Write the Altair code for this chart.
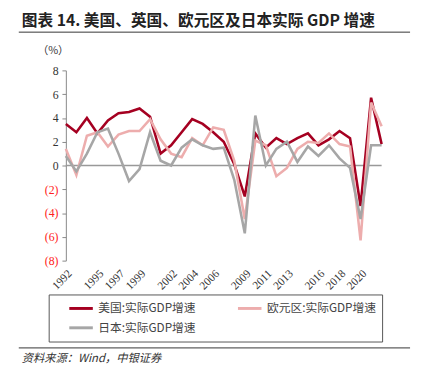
import altair as alt
import pandas as pd

years = list(range(1992, 2023))
us = [3.5, 2.8, 4.0, 2.7, 3.8, 4.4, 4.5, 4.8, 4.1, 1.0, 1.7, 2.8, 3.9, 3.5, 2.8, 2.0, 0.1, -2.6,
      2.7, 1.5, 2.3, 1.8, 2.3, 2.7, 1.7, 2.2, 2.9, 2.3, -3.4, 5.7, 1.8]
euro = [1.4, -0.8, 2.5, 2.8, 1.6, 2.6, 2.9, 2.9, 3.9, 2.2, 1.0, 0.7, 2.3, 1.7, 3.2, 3.0, 0.4, -4.5,
        2.1, 1.7, -0.9, -0.2, 1.4, 2.0, 1.9, 2.7, 1.8, 1.6, -6.3, 5.3, 3.3]
japan = [0.8, -0.5, 1.0, 2.8, 3.1, 1.0, -1.3, -0.3, 2.8, 0.4, 0.0, 1.5, 2.2, 1.7, 1.4, 1.5, -1.2, -5.7,
         4.2, 0.0, 1.4, 2.0, 0.3, 1.6, 0.8, 1.7, 0.6, -0.2, -4.5, 1.7, 1.7]

series_names = ["美国:实际GDP增速", "欧元区:实际GDP增速", "日本:实际GDP增速"]
series_colors = ["#A50021", "#EDADAD", "#A6A6A6"]
x_label_years = [1992, 1995, 1997, 1999, 2002, 2004, 2006, 2009, 2011, 2013, 2016, 2018, 2020]
y_ticks = [-8, -6, -4, -2, 0, 2, 4, 6, 8]

title_text = "图表 14. 美国、英国、欧元区及日本实际 GDP 增速"
unit_text = "（%）"
source_text = "资料来源：Wind，中银证券"

rows = []
for name, vals in zip(series_names, [us, euro, japan]):
    for yr, v in zip(years, vals):
        rows.append({"year": yr, "value": v, "series": name})
df = pd.DataFrame(rows)

serif = "Liberation Serif"
cjk = "Noto Sans CJK SC"

W, H = 322, 194

y_scale = alt.Scale(domain=[-8, 8], nice=False)
y_axis = alt.Axis(values=y_ticks, grid=False, domainColor="#888888", tickColor="#888888",
                  tickSize=4, labelFont=serif, labelFontSize=12, labelPadding=4,
                  labelOverlap=False,
                  labelExpr="datum.value < 0 ? '(' + abs(datum.value) + ')' : datum.value",
                  labelColor=alt.condition("datum.value < 0", alt.value("#FF2020"),
                                           alt.value("#333333")),
                  title=None)

lines = alt.Chart(df).mark_line(strokeWidth=2.6, clip=False).encode(
    x=alt.X("year:Q",
            scale=alt.Scale(domain=[1992, 2022], nice=False, zero=False),
            axis=alt.Axis(values=x_label_years, format="d", labelAngle=-45, labelAlign="right",
                          labelBaseline="top", domain=False,
                          ticks=False, grid=False, labelFont=serif, labelFontSize=11.5,
                          labelColor="#333333", labelPadding=7, title=None,
                          labelOverlap=False)),
    y=alt.Y("value:Q", scale=y_scale, axis=y_axis),
    color=alt.Color("series:N",
                    scale=alt.Scale(domain=series_names, range=series_colors),
                    sort=series_names,
                    legend=alt.Legend(orient="none", legendX=2, legendY=229, columns=2,
                                      direction="horizontal",
                                      symbolType="stroke", symbolSize=576, symbolStrokeWidth=3,
                                      labelFont=cjk, labelFontSize=12, labelColor="#444444",
                                      columnPadding=36, rowPadding=0, padding=0, title=None,
                                      labelLimit=200)),
    order=alt.Order("year:Q"),
)

one = alt.Data(values=[{"k": 1}])

zero_line = alt.Chart(pd.DataFrame({"z": [0]})).mark_rule(color="#999999", strokeWidth=1.5).encode(
    y=alt.Y("z:Q", scale=y_scale, axis=y_axis)
)

title_mark = alt.Chart(one).mark_text(align="left", baseline="middle", font=cjk, fontSize=16,
                                      fontWeight="bold", color="#222222").encode(
    x=alt.value(-45), y=alt.value(-50), text=alt.value(title_text))

unit_mark = alt.Chart(one).mark_text(align="center", baseline="middle", font=cjk, fontSize=11,
                                     color="#333333").encode(
    x=alt.value(-13), y=alt.value(-20), text=alt.value(unit_text))

source_mark = alt.Chart(one).mark_text(align="left", baseline="middle", font=cjk, fontSize=11.5,
                                       fontStyle="italic", color="#333333").encode(
    x=alt.value(-45), y=alt.value(294), text=alt.value(source_text))

top_rule = alt.Chart(one).mark_rule(color="#333333", strokeWidth=1).encode(
    x=alt.value(-48), x2=alt.value(351), y=alt.value(-39))

bottom_rule = alt.Chart(one).mark_rule(color="#333333", strokeWidth=1).encode(
    x=alt.value(-48), x2=alt.value(351), y=alt.value(283))

frame = alt.Chart(one).mark_rect(fillOpacity=0, stroke="#555555", strokeWidth=1).encode(
    x=alt.value(-17), x2=alt.value(323), y=alt.value(229), y2=alt.value(277))

chart = alt.layer(zero_line, lines, frame, top_rule, bottom_rule, title_mark, unit_mark,
                  source_mark).properties(
    width=W, height=H,
    autosize=alt.AutoSizeParams(type="none"),
    padding={"left": 59, "top": 60, "right": 32, "bottom": 113},
).configure_view(stroke=None).configure_axisY(labelOverlap=False).configure_axisX(
    labelAngle=-45, labelOverlap=False)

chart.save("out.html", embed_options={"renderer": "svg", "actions": False})
